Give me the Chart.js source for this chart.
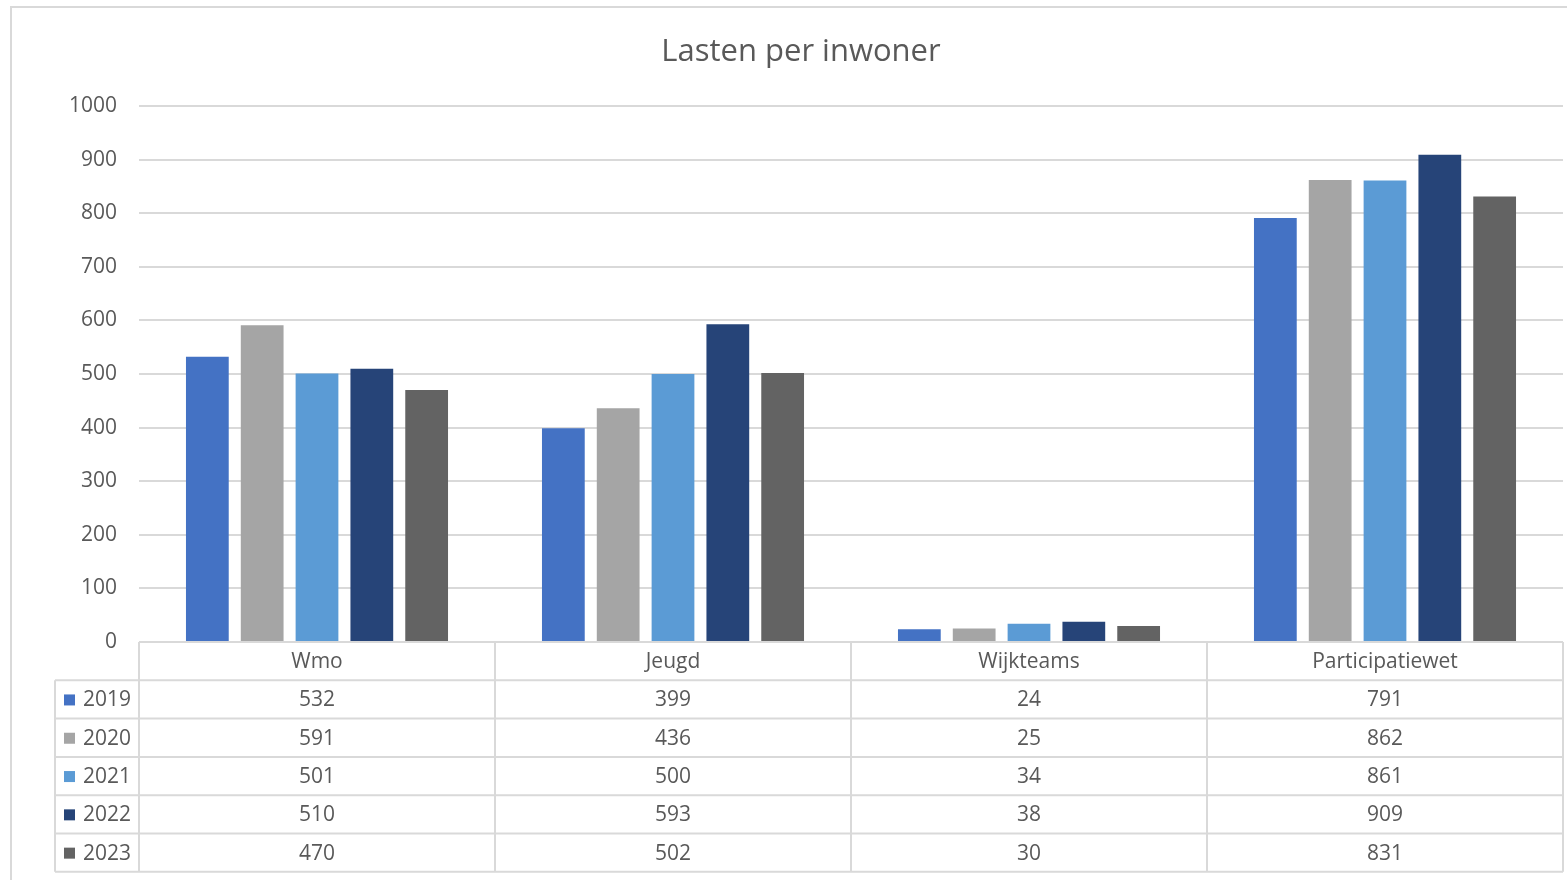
<!DOCTYPE html>
<html>
<head>
<meta charset="utf-8">
<title>Lasten per inwoner</title>
<script src="https://cdn.jsdelivr.net/npm/chart.js@4/dist/chart.umd.min.js"></script>
<style>
  html, body { margin: 0; padding: 0; background: #ffffff; overflow: hidden; }
  canvas { display: block; }
</style>
</head>
<body>
<canvas id="lastenChart" width="1567" height="880"></canvas>
<script>
// Categories and yearly values (per inwoner)
const categories = ['Wmo', 'Jeugd', 'Wijkteams', 'Participatiewet'];
const years = ['2019', '2020', '2021', '2022', '2023'];
const values2019 = [532, 399, 24, 791];
const values2020 = [591, 436, 25, 862];
const values2021 = [501, 500, 34, 861];
const values2022 = [510, 593, 38, 909];
const values2023 = [470, 502, 30, 831];
const yTicks = [0, 100, 200, 300, 400, 500, 600, 700, 800, 900, 1000];

const seriesValues = [values2019, values2020, values2021, values2022, values2023];
const seriesColors = ['#4472C4', '#A5A5A5', '#5B9BD5', '#264478', '#636363'];

const textColor = '#595959';
const lineColor = '#d9d9d9';
const fontFamily = '"Open Sans", Lato, sans-serif';

// Title, outer border and the data table under the plot
const tablePlugin = {
  id: 'dataTable',
  afterDraw(chart) {
    const ctx = chart.ctx;
    const area = chart.chartArea;
    const x = chart.scales.x;
    const rowH = 38.3;
    const legendLeft = 55;

    ctx.save();

    // chart border
    ctx.strokeStyle = lineColor;
    ctx.lineWidth = 2;
    ctx.strokeRect(11, 7, 1600, 900);

    // title
    ctx.fillStyle = textColor;
    ctx.font = '31px ' + fontFamily;
    ctx.textAlign = 'center';
    ctx.textBaseline = 'middle';
    ctx.fillText('Lasten per inwoner', 801, 52);

    // table grid
    ctx.strokeStyle = lineColor;
    ctx.lineWidth = 2;
    const top = area.bottom;
    const bottom = top + rowH * (years.length + 1);
    ctx.beginPath();
    // header row lines
    ctx.moveTo(area.left, top);
    ctx.lineTo(area.right, top);
    for (let r = 1; r <= years.length + 1; r++) {
      const yy = top + rowH * r;
      ctx.moveTo(legendLeft, yy);
      ctx.lineTo(area.right, yy);
    }
    // vertical lines
    const colW = (area.right - area.left) / categories.length;
    for (let c = 0; c <= categories.length; c++) {
      const xx = area.left + colW * c;
      ctx.moveTo(xx, top);
      ctx.lineTo(xx, bottom);
    }
    ctx.moveTo(legendLeft, top + rowH);
    ctx.lineTo(legendLeft, bottom);
    ctx.stroke();

    // header labels
    ctx.fillStyle = textColor;
    ctx.font = '21px ' + fontFamily;
    ctx.textAlign = 'center';
    categories.forEach((cat, i) => {
      ctx.fillText(cat, x.getPixelForValue(i), top + rowH / 2 + 1);
    });

    // rows
    years.forEach((yr, r) => {
      const cy = top + rowH * (r + 1) + rowH / 2 + 1;
      ctx.fillStyle = seriesColors[r];
      ctx.fillRect(64, cy - 6, 11, 11);
      ctx.fillStyle = textColor;
      ctx.textAlign = 'left';
      ctx.fillText(yr, 83, cy);
      ctx.textAlign = 'center';
      seriesValues[r].forEach((v, i) => {
        ctx.fillText(String(v), x.getPixelForValue(i), cy);
      });
    });

    ctx.restore();
  }
};

const ctx = document.getElementById('lastenChart').getContext('2d');

const lastenChart = new Chart(ctx, {
  type: 'bar',
  data: {
    labels: categories,
    datasets: years.map((yr, i) => ({
      label: yr,
      data: seriesValues[i],
      backgroundColor: seriesColors[i],
      categoryPercentage: 0.77,
      barPercentage: 0.78
    }))
  },
  options: {
    responsive: false,
    animation: false,
    layout: {
      padding: { top: 106, right: 4, bottom: 238, left: 0 }
    },
    scales: {
      x: {
        display: false
      },
      y: {
        min: 0,
        max: 1000,
        afterFit(scale) { scale.width = 139; },
        afterBuildTicks(scale) { scale.ticks = yTicks.map(v => ({ value: v })); },
        ticks: {
          padding: 22,
          color: textColor,
          font: { family: fontFamily, size: 21 },
          callback: (value) => String(value)
        },
        grid: {
          color: lineColor,
          lineWidth: 2,
          drawTicks: false
        },
        border: { display: false }
      }
    },
    plugins: {
      legend: { display: false },
      title: { display: false },
      tooltip: { enabled: false }
    }
  },
  plugins: [tablePlugin]
});
</script>
</body>
</html>
